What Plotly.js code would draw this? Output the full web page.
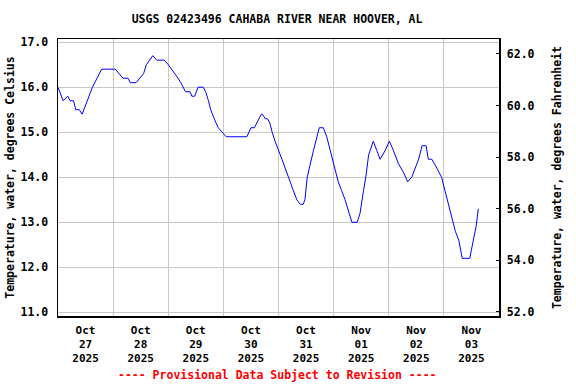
<!DOCTYPE html>
<html>
<head>
<meta charset="utf-8">
<script src="https://cdn.plot.ly/plotly-3.0.1.min.js"></script>
<style>html,body{margin:0;padding:0;background:#fff}#chart{width:576px;height:384px}</style>
</head>
<body>
<div id="chart"></div>
<script>
const times = [
"2025-10-27 00:00","2025-10-27 02:15","2025-10-27 04:15","2025-10-27 05:15","2025-10-27 06:45","2025-10-27 07:45","2025-10-27 09:15","2025-10-27 10:30","2025-10-27 13:30","2025-10-27 15:00","2025-10-27 17:00","2025-10-27 19:00",
"2025-10-28 01:00","2025-10-28 02:30","2025-10-28 04:15","2025-10-28 06:30","2025-10-28 07:30","2025-10-28 10:00","2025-10-28 11:30","2025-10-28 13:15","2025-10-28 14:30","2025-10-28 15:45","2025-10-28 17:15","2025-10-28 19:00","2025-10-28 22:15",
"2025-10-29 00:00","2025-10-29 01:30","2025-10-29 03:00","2025-10-29 04:15","2025-10-29 05:30","2025-10-29 06:30","2025-10-29 07:30","2025-10-29 09:30","2025-10-29 10:15","2025-10-29 11:30","2025-10-29 13:00","2025-10-29 15:15","2025-10-29 16:15","2025-10-29 17:30","2025-10-29 18:30","2025-10-29 20:00","2025-10-29 21:45","2025-10-29 23:30",
"2025-10-30 01:15","2025-10-30 10:15","2025-10-30 11:15","2025-10-30 12:00","2025-10-30 13:30","2025-10-30 14:30","2025-10-30 15:15","2025-10-30 16:30","2025-10-30 17:00","2025-10-30 18:15","2025-10-30 19:15","2025-10-30 20:15","2025-10-30 21:15","2025-10-30 22:30",
"2025-10-31 01:30","2025-10-31 03:30","2025-10-31 05:00","2025-10-31 06:30","2025-10-31 08:00","2025-10-31 09:30","2025-10-31 10:45","2025-10-31 11:30","2025-10-31 12:30","2025-10-31 13:45","2025-10-31 15:15","2025-10-31 16:45","2025-10-31 17:45","2025-10-31 19:30","2025-10-31 21:00","2025-10-31 22:30",
"2025-11-01 00:30","2025-11-01 02:00","2025-11-01 03:30","2025-11-01 05:00","2025-11-01 06:45","2025-11-01 08:00","2025-11-01 10:15","2025-11-01 11:30","2025-11-01 13:00","2025-11-01 14:00","2025-11-01 15:15","2025-11-01 16:30","2025-11-01 17:15","2025-11-01 18:45","2025-11-01 20:15","2025-11-01 22:30",
"2025-11-02 00:15","2025-11-02 02:00","2025-11-02 04:15","2025-11-02 06:30","2025-11-02 08:15","2025-11-02 10:00","2025-11-02 11:30","2025-11-02 13:00","2025-11-02 14:30","2025-11-02 16:15","2025-11-02 17:15","2025-11-02 18:45","2025-11-02 21:00","2025-11-02 23:00",
"2025-11-03 00:30","2025-11-03 02:00","2025-11-03 03:30","2025-11-03 05:00","2025-11-03 06:30","2025-11-03 08:00","2025-11-03 11:15","2025-11-03 13:00","2025-11-03 14:00","2025-11-03 15:00"
];
const tempC = [
16.0,15.7,15.8,15.7,15.7,15.5,15.5,15.4,15.8,16.0,16.2,16.4,
16.4,16.3,16.2,16.2,16.1,16.1,16.2,16.3,16.5,16.6,16.7,16.6,16.6,
16.5,16.4,16.3,16.2,16.1,16.0,15.9,15.9,15.8,15.8,16.0,16.0,15.9,15.7,15.5,15.3,15.1,15.0,
14.9,14.9,15.0,15.1,15.1,15.2,15.3,15.4,15.4,15.3,15.3,15.2,15.0,14.8,
14.4,14.1,13.9,13.7,13.5,13.4,13.4,13.5,14.0,14.3,14.6,14.9,15.1,15.1,14.9,14.6,
14.2,13.9,13.7,13.5,13.2,13.0,13.0,13.2,13.7,14.0,14.5,14.7,14.8,14.6,14.4,14.6,
14.8,14.6,14.3,14.1,13.9,14.0,14.2,14.4,14.7,14.7,14.4,14.4,14.2,14.0,
13.7,13.4,13.1,12.8,12.6,12.2,12.2,12.6,12.9,13.3
];
const dayTicks = ["2025-10-27 12:00","2025-10-28 12:00","2025-10-29 12:00","2025-10-30 12:00","2025-10-31 12:00","2025-11-01 12:00","2025-11-02 12:00","2025-11-03 12:00"];
const dayLabels = ["Oct<br>27<br>2025","Oct<br>28<br>2025","Oct<br>29<br>2025","Oct<br>30<br>2025","Oct<br>31<br>2025","Nov<br>01<br>2025","Nov<br>02<br>2025","Nov<br>03<br>2025"];
const cTicks = [11,12,13,14,15,16,17];
const cLabels = ["11.0","12.0","13.0","14.0","15.0","16.0","17.0"];
const fTicks = [52,54,56,58,60,62];
const fLabels = ["52.0","54.0","56.0","58.0","60.0","62.0"];

const FONT = "DejaVu Sans Mono";
const FS = 11.5;
const tf = {family: FONT, size: FS, color: "#000", weight: "bold"};
const xtf = {family: FONT, size: 11, color: "#000", weight: "bold"};

const data = [
  {x: times, y: tempC, type: "scatter", mode: "lines", line: {color: "#0000ff", width: 1}, hoverinfo: "skip", showlegend: false},
  {x: [times[0]], y: [60], yaxis: "y2", type: "scatter", mode: "markers", marker: {opacity: 0}, hoverinfo: "skip", showlegend: false}
];

const layout = {
  width: 576, height: 384,
  margin: {l: 58, r: 77, t: 39, b: 68},
  paper_bgcolor: "#fff", plot_bgcolor: "#fff",
  showlegend: false,
  title: {text: "USGS 02423496 CAHABA RIVER NEAR HOOVER, AL", font: {family: FONT, size: FS, color: "#000", weight: "bold"}, x: 0.481, xanchor: "center", y: 0.95, yanchor: "middle"},
  xaxis: {
    type: "date", range: ["2025-10-27 00:00", "2025-11-04 00:00"],
    tickmode: "array", tickvals: dayTicks, ticktext: dayLabels,
    tickfont: xtf, showgrid: false, ticks: "", zeroline: false,
    showline: true, linecolor: "#000", linewidth: 1.5, mirror: true,
    minor: {tickmode: "linear", tick0: "2025-10-27", dtick: 86400000, showgrid: true, gridcolor: "#c8c8c8", gridwidth: 1, ticks: ""},
    ticklabelstandoff: 3
  },
  yaxis: {
    range: [10.92, 17.07], tickmode: "array", tickvals: cTicks, ticktext: cLabels,
    tickfont: tf, showgrid: true, gridcolor: "#c8c8c8", gridwidth: 1, ticks: "", zeroline: false,
    showline: true, linecolor: "#000", linewidth: 1.5, mirror: true,
    ticklabelstandoff: 6,
    title: {text: "Temperature, water, degrees Celsius", font: {family: FONT, size: FS, color: "#000", weight: "bold"}, standoff: 3}
  },
  yaxis2: {
    overlaying: "y", side: "right", anchor: "x",
    range: [51.83, 62.58], tickmode: "array", tickvals: fTicks, ticktext: fLabels,
    tickfont: tf, showgrid: false, zeroline: false,
    ticks: "inside", ticklen: 3, tickcolor: "#000", tickwidth: 1,
    showline: true, linecolor: "#000", linewidth: 1.5,
    ticklabelstandoff: 4,
    title: {text: "Temperature, water, degrees Fahrenheit", font: {family: FONT, size: FS, color: "#000", weight: "bold"}, standoff: 19}
  },
  annotations: [
    {text: "---- Provisional Data Subject to Revision ----", xref: "paper", yref: "paper", x: 0.498, y: -0.213, xanchor: "center", yanchor: "middle", showarrow: false,
     font: {family: FONT, size: FS, color: "#ff0000", weight: "bold"}}
  ]
};

Plotly.newPlot("chart", data, layout, {staticPlot: true, displayModeBar: false});
</script>
</body>
</html>
